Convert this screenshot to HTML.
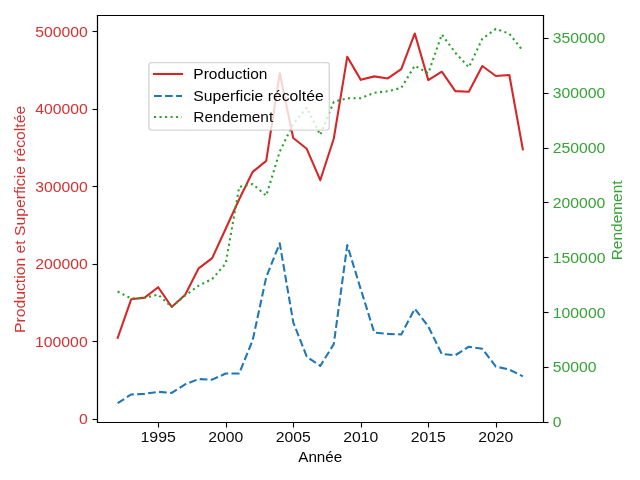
<!DOCTYPE html><html><head><meta charset="utf-8"><style>html,body{margin:0;padding:0;background:#fff;overflow:hidden;}svg{display:block;will-change:transform;}text{font-family:"Liberation Sans",sans-serif;}</style></head><body>
<svg width="640" height="480" viewBox="0 0 640 480">
<path d="M158.500 422.500 L158.500 427.500" fill="none" stroke="#000000" stroke-width="1.111"/>
<text x="140.49" y="442.44" font-size="13.889" fill="#000000" fill-opacity="0.955" textLength="35.38" lengthAdjust="spacingAndGlyphs">1995</text>
<path d="M226.500 422.500 L226.500 427.500" fill="none" stroke="#000000" stroke-width="1.111"/>
<text x="208.21" y="442.44" font-size="13.889" fill="#000000" fill-opacity="0.955" textLength="35.00" lengthAdjust="spacingAndGlyphs">2000</text>
<path d="M293.500 422.500 L293.500 427.500" fill="none" stroke="#000000" stroke-width="1.111"/>
<text x="275.74" y="442.44" font-size="13.889" fill="#000000" fill-opacity="0.955" textLength="35.00" lengthAdjust="spacingAndGlyphs">2005</text>
<path d="M361.500 422.500 L361.500 427.500" fill="none" stroke="#000000" stroke-width="1.111"/>
<text x="343.21" y="442.44" font-size="13.889" fill="#000000" fill-opacity="0.955" textLength="35.12" lengthAdjust="spacingAndGlyphs">2010</text>
<path d="M428.500 422.500 L428.500 427.500" fill="none" stroke="#000000" stroke-width="1.111"/>
<text x="410.73" y="442.44" font-size="13.889" fill="#000000" fill-opacity="0.955" textLength="35.12" lengthAdjust="spacingAndGlyphs">2015</text>
<path d="M496.500 422.500 L496.500 427.500" fill="none" stroke="#000000" stroke-width="1.111"/>
<text x="478.33" y="442.44" font-size="13.889" fill="#000000" fill-opacity="0.955" textLength="35.00" lengthAdjust="spacingAndGlyphs">2020</text>
<text x="298.25" y="462.00" font-size="13.889" fill="#000000" fill-opacity="1.0" textLength="44.00" lengthAdjust="spacingAndGlyphs">Année</text>
<path d="M97.500 419.500 L92.500 419.500" fill="none" stroke="#000000" stroke-width="1.111"/>
<text x="78.93" y="424.24" font-size="13.889" fill="#d62728" fill-opacity="0.955" textLength="8.75" lengthAdjust="spacingAndGlyphs">0</text>
<path d="M97.500 341.500 L92.500 341.500" fill="none" stroke="#000000" stroke-width="1.111"/>
<text x="35.06" y="346.70" font-size="13.889" fill="#d62728" fill-opacity="0.955" textLength="52.62" lengthAdjust="spacingAndGlyphs">100000</text>
<path d="M97.500 264.500 L92.500 264.500" fill="none" stroke="#000000" stroke-width="1.111"/>
<text x="35.18" y="269.15" font-size="13.889" fill="#d62728" fill-opacity="0.955" textLength="52.50" lengthAdjust="spacingAndGlyphs">200000</text>
<path d="M97.500 186.500 L92.500 186.500" fill="none" stroke="#000000" stroke-width="1.111"/>
<text x="35.18" y="191.60" font-size="13.889" fill="#d62728" fill-opacity="0.955" textLength="52.50" lengthAdjust="spacingAndGlyphs">300000</text>
<path d="M97.500 109.500 L92.500 109.500" fill="none" stroke="#000000" stroke-width="1.111"/>
<text x="35.18" y="114.05" font-size="13.889" fill="#d62728" fill-opacity="0.955" textLength="52.50" lengthAdjust="spacingAndGlyphs">400000</text>
<path d="M97.500 31.500 L92.500 31.500" fill="none" stroke="#000000" stroke-width="1.111"/>
<text x="35.18" y="36.51" font-size="13.889" fill="#d62728" fill-opacity="0.955" textLength="52.50" lengthAdjust="spacingAndGlyphs">500000</text>
<text transform="translate(24.50 332.92) rotate(-90.0)" x="0" y="0" font-size="13.889" fill="#d62728" fill-opacity="0.955" textLength="227.12" lengthAdjust="spacingAndGlyphs">Production et Superficie récoltée</text>
<path d="M117.662 337.978 L131.168 299.321 L144.673 297.615 L158.179 287.223 L171.685 306.921 L185.191 294.668 L198.697 268.302 L212.203 258.066 L225.709 228.753 L239.215 199.284 L252.721 171.832 L266.226 160.821 L279.732 73.269 L293.238 137.944 L306.744 148.801 L320.250 180.208 L333.756 138.720 L347.262 56.829 L360.768 79.861 L374.274 76.371 L387.779 78.465 L401.285 69.082 L414.791 33.487 L428.297 80.094 L441.803 71.718 L455.309 91.105 L468.815 91.726 L482.321 65.980 L495.827 75.984 L509.332 74.975 L522.838 149.344" fill="none" stroke="#d62728" stroke-width="2.083" stroke-linecap="square" stroke-linejoin="round"/>
<path d="M117.662 403.235 L131.168 394.472 L144.673 393.852 L158.179 391.835 L171.685 392.843 L185.191 384.313 L198.697 379.040 L212.203 379.660 L225.709 373.534 L239.215 373.457 L252.721 340.111 L266.226 277.142 L279.732 243.254 L293.238 322.275 L306.744 356.629 L320.250 365.934 L333.756 344.143 L347.262 245.115 L360.768 289.240 L374.274 332.511 L387.779 333.907 L401.285 334.450 L414.791 308.704 L428.297 326.463 L441.803 354.070 L455.309 355.233 L468.815 346.703 L482.321 348.796 L495.827 366.555 L509.332 369.579 L522.838 376.326" fill="none" stroke="#1f77b4" stroke-width="2.083" stroke-linecap="butt" stroke-linejoin="round" stroke-dasharray="7.708 3.333"/>
<path d="M97.500 422.500 L97.500 15.500" fill="none" stroke="#000000" stroke-width="1.111" stroke-linecap="square" stroke-linejoin="miter"/>
<path d="M543.500 422.500 L543.500 15.500" fill="none" stroke="#000000" stroke-width="1.111" stroke-linecap="square" stroke-linejoin="miter"/>
<path d="M97.500 422.500 L543.500 422.500" fill="none" stroke="#000000" stroke-width="1.111" stroke-linecap="square" stroke-linejoin="miter"/>
<path d="M97.500 15.500 L543.500 15.500" fill="none" stroke="#000000" stroke-width="1.111" stroke-linecap="square" stroke-linejoin="miter"/>
<path d="M543.500 422.500 L548.500 422.500" fill="none" stroke="#000000" stroke-width="1.111"/>
<text x="552.82" y="427.22" font-size="13.889" fill="#2ca02c" fill-opacity="0.955" textLength="8.75" lengthAdjust="spacingAndGlyphs">0</text>
<path d="M543.500 367.500 L548.500 367.500" fill="none" stroke="#000000" stroke-width="1.111"/>
<text x="552.82" y="372.39" font-size="13.889" fill="#2ca02c" fill-opacity="0.955" textLength="43.75" lengthAdjust="spacingAndGlyphs">50000</text>
<path d="M543.500 312.500 L548.500 312.500" fill="none" stroke="#000000" stroke-width="1.111"/>
<text x="552.82" y="317.56" font-size="13.889" fill="#2ca02c" fill-opacity="0.955" textLength="52.62" lengthAdjust="spacingAndGlyphs">100000</text>
<path d="M543.500 257.500 L548.500 257.500" fill="none" stroke="#000000" stroke-width="1.111"/>
<text x="552.82" y="262.73" font-size="13.889" fill="#2ca02c" fill-opacity="0.955" textLength="52.62" lengthAdjust="spacingAndGlyphs">150000</text>
<path d="M543.500 202.500 L548.500 202.500" fill="none" stroke="#000000" stroke-width="1.111"/>
<text x="552.82" y="207.89" font-size="13.889" fill="#2ca02c" fill-opacity="0.955" textLength="52.50" lengthAdjust="spacingAndGlyphs">200000</text>
<path d="M543.500 148.500 L548.500 148.500" fill="none" stroke="#000000" stroke-width="1.111"/>
<text x="552.82" y="153.06" font-size="13.889" fill="#2ca02c" fill-opacity="0.955" textLength="52.50" lengthAdjust="spacingAndGlyphs">250000</text>
<path d="M543.500 93.500 L548.500 93.500" fill="none" stroke="#000000" stroke-width="1.111"/>
<text x="552.82" y="98.23" font-size="13.889" fill="#2ca02c" fill-opacity="0.955" textLength="52.50" lengthAdjust="spacingAndGlyphs">300000</text>
<path d="M543.500 38.500 L548.500 38.500" fill="none" stroke="#000000" stroke-width="1.111"/>
<text x="552.82" y="43.40" font-size="13.889" fill="#2ca02c" fill-opacity="0.955" textLength="52.50" lengthAdjust="spacingAndGlyphs">350000</text>
<text transform="translate(622.00 260.30) rotate(-90.0)" x="0" y="0" font-size="13.889" fill="#2ca02c" fill-opacity="0.965" textLength="79.88" lengthAdjust="spacingAndGlyphs">Rendement</text>
<path d="M117.662 291.551 L131.168 298.460 L144.673 297.911 L158.179 294.622 L171.685 307.014 L185.191 295.499 L198.697 285.574 L212.203 279.049 L225.709 263.477 L239.215 186.822 L252.721 184.080 L266.226 195.705 L279.732 151.620 L293.238 123.765 L306.744 107.644 L320.250 134.951 L333.756 101.832 L347.262 98.213 L360.768 98.213 L374.274 92.840 L387.779 91.195 L401.285 87.905 L414.791 65.643 L428.297 73.210 L441.803 34.443 L455.309 52.703 L468.815 67.288 L482.321 38.775 L495.827 28.905 L509.332 33.676 L522.838 50.838" fill="none" stroke="#2ca02c" stroke-width="2.083" stroke-linecap="butt" stroke-linejoin="round" stroke-dasharray="2.083 3.437"/>
<path d="M97.500 422.500 L97.500 15.500" fill="none" stroke="#000000" stroke-width="1.111" stroke-linecap="square" stroke-linejoin="miter"/>
<path d="M543.500 422.500 L543.500 15.500" fill="none" stroke="#000000" stroke-width="1.111" stroke-linecap="square" stroke-linejoin="miter"/>
<path d="M97.500 422.500 L543.500 422.500" fill="none" stroke="#000000" stroke-width="1.111" stroke-linecap="square" stroke-linejoin="miter"/>
<path d="M97.500 15.500 L543.500 15.500" fill="none" stroke="#000000" stroke-width="1.111" stroke-linecap="square" stroke-linejoin="miter"/>
<path d="M151.694 130.117 L326.514 130.117 Q329.292 130.117 329.292 127.339 L329.292 65.394 Q329.292 62.617 326.514 62.617 L151.694 62.617 Q148.917 62.617 148.917 65.394 L148.917 127.339 Q148.917 130.117 151.694 130.117 Z" fill="#ffffff" fill-opacity="0.800" stroke="#cccccc" stroke-width="1.389" stroke-opacity="0.800" stroke-linecap="butt" stroke-linejoin="miter"/>
<path d="M154.000 74.000 L168.000 74.000 L182.000 74.000" fill="none" stroke="#d62728" stroke-width="2.083" stroke-linecap="square" stroke-linejoin="round"/>
<text x="193.36" y="79.17" font-size="13.889" fill="#000000" fill-opacity="1.0" textLength="74.00" lengthAdjust="spacingAndGlyphs">Production</text>
<path d="M154.000 96.000 L168.000 96.000 L182.000 96.000" fill="none" stroke="#1f77b4" stroke-width="2.083" stroke-linecap="butt" stroke-linejoin="round" stroke-dasharray="7.708 3.333"/>
<text x="193.36" y="100.62" font-size="13.889" fill="#000000" fill-opacity="1.0" textLength="130.38" lengthAdjust="spacingAndGlyphs">Superficie récoltée</text>
<path d="M154.000 117.000 L168.000 117.000 L182.000 117.000" fill="none" stroke="#2ca02c" stroke-width="2.083" stroke-linecap="butt" stroke-linejoin="round" stroke-dasharray="2.083 3.437"/>
<text x="193.36" y="121.56" font-size="13.889" fill="#000000" fill-opacity="0.965" textLength="79.88" lengthAdjust="spacingAndGlyphs">Rendement</text>
</svg></body></html>
